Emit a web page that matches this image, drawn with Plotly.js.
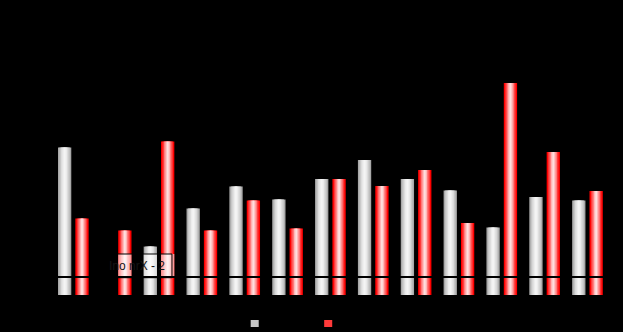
<!DOCTYPE html>
<html>
<head>
<meta charset="utf-8">
<script src="https://cdn.plot.ly/plotly-3.0.1.min.js"></script>
<style>html,body{margin:0;padding:0;background:#000;}#chart{width:623px;height:332px;}</style>
</head>
<body>
<div id="chart"></div>
<script>
const categories = ['G1','G2','G3','G4','G5','G6','G7','G8','G9','G10','G11','G12','G13'];
const seriesNames = ['Serie 1', 'Serie 2'];
const greyValues = [73.7, null, 24.2, 43.2, 54.2, 47.7, 58, 67.5, 58, 52.2, 33.7, 49, 47.2];
const redValues  = [38.2, 32.2, 76.7, 32.2, 47.2, 33.2, 58, 54.5, 62.5, 36, 106, 71.5, 52];
const refLineValue = 9;
const boxText = 'Ino nrX - 2';

const barWidth = 0.31;
const greyOffset = -0.36;
const redOffset = 0.045;
const layerFractions = [1, 0.78, 0.56, 0.34, 0.14];
const greyShades = ['#a9a9a9', '#c6c6c6', '#dcdcdc', '#ececec', '#f4f4f4'];
const redShades  = ['#ff0000', '#ff3a3a', '#ff7c7c', '#ffb8b8', '#ffdede'];

const traces = [];
function addSeries(name, vals, baseOffset, shades, legendLayer) {
  layerFractions.forEach((f, k) => {
    const w = barWidth * f;
    traces.push({
      type: 'bar', x: categories, y: vals, name: name,
      width: w, offset: baseOffset + (barWidth - w) / 2,
      marker: { color: shades[k], line: { width: 0 } },
      legendgroup: name, showlegend: k === legendLayer,
      hoverinfo: 'x+y'
    });
  });
}
addSeries(seriesNames[0], greyValues, greyOffset, greyShades, 1);
addSeries(seriesNames[1], redValues, redOffset, redShades, 1);

const box = { x0: 1.02, x1: 2.30, y0: 8.65, y1: 20.5 };
[[greyValues, greyOffset], [redValues, redOffset]].forEach(([vals, off]) => {
  const xs = [], ys = [];
  vals.forEach((v, i) => {
    if (v == null) return;
    const l = i + off, r = i + off + barWidth;
    if (r > box.x0 && l < box.x1 && v > box.y0) {
      xs.push(categories[i]);
      ys.push(Math.min(v, box.y1) - box.y0);
    }
  });
  traces.push({
    type: 'bar', x: xs, y: ys, base: box.y0, width: barWidth, offset: off,
    marker: { color: 'rgba(255,255,255,0.6)', line: { width: 0 } },
    showlegend: false, hoverinfo: 'skip'
  });
});

const layout = {
  width: 623, height: 332,
  paper_bgcolor: '#000', plot_bgcolor: '#000',
  font: { family: 'Liberation Sans, Arial, sans-serif', size: 11, color: '#000' },
  margin: { l: 52, r: 14, t: 15, b: 37, autoexpand: false },
  barmode: 'overlay',
  xaxis: { type: 'category', range: [-0.5, 12.5], showgrid: false, zeroline: false,
           showline: false, ticks: '', tickfont: { color: '#000' } },
  yaxis: { range: [0, 140], showgrid: false, zeroline: false, showline: false,
           ticks: '', tickfont: { color: '#000' } },
  showlegend: true,
  legend: { orientation: 'h', x: 0.328, xanchor: 'left', y: -0.05, yanchor: 'top',
            bgcolor: 'rgba(0,0,0,0)', font: { color: '#000', size: 10 },
            entrywidth: 28.5, entrywidthmode: 'pixels' },
  shapes: [
    { type: 'line', xref: 'paper', x0: 0, x1: 1, yref: 'y', y0: refLineValue, y1: refLineValue,
      line: { color: '#000', width: 2 }, layer: 'above' },
    { type: 'rect', xref: 'x', yref: 'y', x0: box.x0, x1: box.x1, y0: box.y0, y1: box.y1,
      line: { color: '#000', width: 1 }, fillcolor: 'rgba(0,0,0,0)', layer: 'above' }
  ],
  annotations: [
    { xref: 'x', yref: 'y', x: 1.487, y: 14.75, text: boxText, showarrow: false,
      font: { size: 12, color: '#151515', family: 'Liberation Sans, Arial, sans-serif' } }
  ]
};

Plotly.newPlot('chart', traces, layout, { staticPlot: true, displayModeBar: false }).then(() => {
  document.querySelectorAll('.legend .legendpoints path').forEach(p => {
    const t = p.getAttribute('transform') || '';
    p.setAttribute('transform', t + ' scale(0.67,0.6)');
  });
});
</script>
</body>
</html>
